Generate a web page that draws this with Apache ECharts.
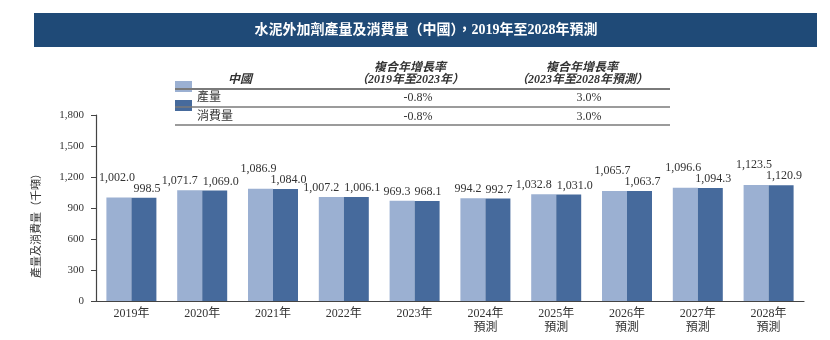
<!DOCTYPE html>
<html>
<head>
<meta charset="utf-8">
<script src="https://cdn.jsdelivr.net/npm/echarts@6/dist/echarts.min.js"></script>
<style>
  html, body { margin: 0; padding: 0; background: #ffffff; }
  #chart { width: 830px; height: 340px; }
</style>
</head>
<body>
<div id="chart"></div>
<script>
// ---- data ----
const titleText = '水泥外加劑產量及消費量（中國），2019年至2028年預測';
const categories = ['2019年', '2020年', '2021年', '2022年', '2023年',
  '2024年\n預測', '2025年\n預測', '2026年\n預測', '2027年\n預測', '2028年\n預測'];
const production = [1002.0, 1071.7, 1086.9, 1007.2, 969.3, 994.2, 1032.8, 1065.7, 1096.6, 1123.5];
const consumption = [998.5, 1069.0, 1084.0, 1006.1, 968.1, 992.7, 1031.0, 1063.7, 1094.3, 1120.9];
const seriesNames = ['產量', '消費量'];
const yAxisName = '產量及消費量（千噸）';
const yMin = 0, yMax = 1800, yStep = 300;
const tableRegion = '中國';
const cagrHeaders = [['複合年增長率', '（2019年至2023年）'], ['複合年增長率', '（2023年至2028年預測）']];
const cagrValues = [['-0.8%', '3.0%'], ['-0.8%', '3.0%']];
// years whose production label sits above the consumption label
const raisedLabelYears = ['2019年', '2021年', '2026年', '2027年', '2028年'];

// ---- style ----
const FONT = '"Liberation Serif", "Noto Sans CJK TC", serif';
const LIGHT = '#9bb0d2';
const DARK = '#466a9c';
const BANNER = '#1f4a77';
const TEXT = '#333333';
const RULE = '#7a7a7a';

const fmt = v => v.toLocaleString('en-US', { minimumFractionDigits: 1, maximumFractionDigits: 1 });
const isRaised = i => raisedLabelYears.includes(categories[i].split('\n')[0]);
// wide labels (with a thousands separator) are pushed apart more
const isWide = v => fmt(v).length > 5;

const prodData = production.map((v, i) => ({
  value: v,
  label: { offset: isRaised(i) ? [-2, -11] : [isWide(v) ? -10 : -5, 0] }
}));
const consData = consumption.map((v, i) => ({
  value: v,
  label: { offset: isRaised(i) ? [3, 0] : [isWide(v) ? 6 : 1, 0] }
}));

// table layout
const tblLeft = 175, tblRight = 670;
const colX = [410, 582];
const valX = [418, 589];
const rowY = [98, 117];
const ruleY = [89, 107, 125];

const graphics = [
  { type: 'rect', shape: { x: 34, y: 13, width: 783, height: 34 }, style: { fill: BANNER } },
  { type: 'text', x: 426, y: 30, style: { text: titleText, fill: '#ffffff', font: 'bold 14px ' + FONT, textAlign: 'center', textVerticalAlign: 'middle' } },
  { type: 'text', x: 240, y: 80, style: { text: tableRegion, fill: TEXT, font: 'italic bold 12px ' + FONT, textAlign: 'center', textVerticalAlign: 'middle' } }
];
cagrHeaders.forEach((h, c) => {
  graphics.push({ type: 'text', x: colX[c], y: 68, style: { text: h[0], fill: TEXT, font: 'italic bold 12px ' + FONT, textAlign: 'center', textVerticalAlign: 'middle' } });
  graphics.push({ type: 'text', x: colX[c], y: 80, style: { text: h[1], fill: TEXT, font: 'italic bold 12px ' + FONT, textAlign: 'center', textVerticalAlign: 'middle' } });
});
seriesNames.forEach((n, r) => {
  graphics.push({ type: 'rect', shape: { x: tblLeft, y: r === 0 ? 81 : 100, width: 17, height: 11 }, style: { fill: r === 0 ? LIGHT : DARK } });
  graphics.push({ type: 'text', x: 197, y: rowY[r], style: { text: n, fill: TEXT, font: '12px ' + FONT, textAlign: 'left', textVerticalAlign: 'middle' } });
  cagrValues[r].forEach((v, c) => {
    graphics.push({ type: 'text', x: valX[c], y: rowY[r], style: { text: v, fill: TEXT, font: '12px ' + FONT, textAlign: 'center', textVerticalAlign: 'middle' } });
  });
});
ruleY.forEach((y, i) => {
  graphics.push({ type: 'line', shape: { x1: tblLeft, y1: y, x2: tblRight, y2: y }, style: { stroke: RULE, lineWidth: i === 0 ? 2 : 1.5 } });
});

const chart = echarts.init(document.getElementById('chart'), null, { renderer: 'canvas' });
chart.setOption({
  animation: false,
  backgroundColor: '#ffffff',
  textStyle: { fontFamily: FONT },
  grid: { left: 96, right: 26, top: 115, bottom: 39, containLabel: false },
  xAxis: {
    type: 'category',
    data: categories,
    axisLine: { lineStyle: { color: '#444', width: 1.2 } },
    axisTick: { show: false },
    axisLabel: { color: TEXT, fontFamily: FONT, fontSize: 12, lineHeight: 14, margin: 6 }
  },
  yAxis: {
    type: 'value',
    min: yMin, max: yMax, interval: yStep,
    name: yAxisName,
    nameLocation: 'middle',
    nameGap: 53,
    nameRotate: 90,
    nameTextStyle: { color: TEXT, fontFamily: FONT, fontSize: 11, padding: [0, 30, 0, 0] },
    axisLine: { show: true, lineStyle: { color: '#444', width: 1.2 } },
    axisTick: { show: true, inside: false, length: 5, lineStyle: { color: '#444' } },
    axisLabel: { color: TEXT, fontFamily: FONT, fontSize: 11, margin: 12, formatter: v => v.toLocaleString('en-US') },
    splitLine: { show: false }
  },
  series: [
    {
      name: seriesNames[0], type: 'bar', data: prodData,
      barWidth: 25, barGap: '0%',
      itemStyle: { color: LIGHT },
      label: { show: true, position: 'top', distance: 3, color: TEXT, fontFamily: FONT, fontSize: 12, formatter: p => fmt(p.value) }
    },
    {
      name: seriesNames[1], type: 'bar', data: consData,
      barWidth: 25,
      itemStyle: { color: DARK },
      label: { show: true, position: 'top', distance: 3, color: TEXT, fontFamily: FONT, fontSize: 12, formatter: p => fmt(p.value) }
    }
  ],
  graphic: graphics
});
</script>
</body>
</html>
